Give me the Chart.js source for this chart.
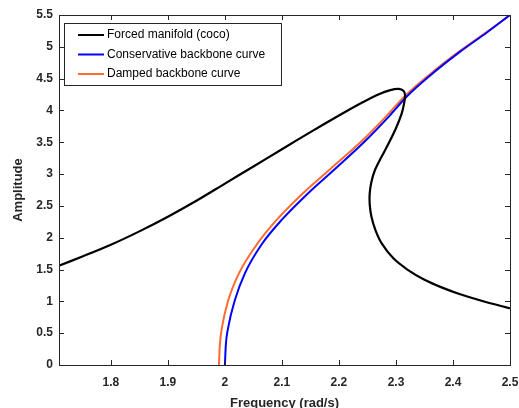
<!DOCTYPE html>
<html>
<head>
<meta charset="utf-8">
<script src="https://cdn.jsdelivr.net/npm/chart.js@4/dist/chart.umd.min.js"></script>
<style>
html,body{margin:0;padding:0;background:#fff;}
#wrap{width:519px;height:408px;position:relative;}
</style>
</head>
<body>
<div id="wrap"><canvas id="c" width="519" height="408"></canvas></div>
<script>
// Forced manifold (coco) — frequency / amplitude pairs
const forcedFreq = [1.709,1.75,1.8,1.85,1.9,1.95,2.0,2.05,2.1,2.15,2.2,2.24,2.27,2.29,2.305,2.313,2.316,2.314,2.310,2.300,2.287,2.274,2.263,2.257,2.254,2.254,2.257,2.264,2.275,2.295,2.32,2.35,2.38,2.41,2.45,2.5];
const forcedAmp  = [1.56,1.705,1.89,2.10,2.33,2.58,2.85,3.12,3.39,3.66,3.92,4.12,4.255,4.32,4.34,4.31,4.24,4.10,3.95,3.72,3.48,3.26,3.06,2.88,2.70,2.52,2.33,2.12,1.91,1.68,1.50,1.34,1.22,1.12,1.01,0.89];
// Conservative backbone curve
const consFreq = [2.0,2.0015,2.006,2.0175,2.035,2.064,2.0995,2.146,2.193,2.246,2.287,2.319,2.36,2.412,2.46,2.5];
const consAmp  = [0,0.30,0.60,1.02,1.44,1.89,2.28,2.70,3.08,3.52,3.90,4.22,4.55,4.92,5.23,5.5];
// Damped backbone curve
const dampFreq = [1.9895,1.991,1.995,2.006,2.0246,2.0556,2.0907,2.137,2.185,2.240,2.282,2.315,2.357,2.410,2.459,2.5];
const dampAmp  = [0,0.30,0.60,1.02,1.44,1.89,2.28,2.70,3.08,3.52,3.90,4.22,4.55,4.92,5.23,5.5];
const seriesLabels = ['Forced manifold (coco)','Conservative backbone curve','Damped backbone curve'];
const seriesColors = ['#000000','#0000ff','#ff6a33'];
const xTicks = [1.8,1.9,2.0,2.1,2.2,2.3,2.4,2.5];
const yTicks = [0,0.5,1,1.5,2,2.5,3,3.5,4,4.5,5,5.5];
const xRange = [1.709, 2.5];
const yRange = [0, 5.5];

function pts(xs, ys){ return xs.map((x,i)=>({x:x,y:ys[i]})); }
const FONT = "'Liberation Sans', Arial, Helvetica, sans-serif";
const AX = '#262626';
function fmt(v){ return String(Number(v.toFixed(3))); }

const frame = {
  id:'frame',
  afterDatasetsDraw(chart){
    const ctx = chart.ctx, a = chart.chartArea, xs = chart.scales.x, ys = chart.scales.y;
    ctx.save();
    ctx.strokeStyle = AX; ctx.lineWidth = 1;
    ctx.beginPath();
    ctx.rect(Math.round(a.left)+0.5, Math.round(a.top)+0.5, Math.round(a.right-a.left), Math.round(a.bottom-a.top));
    ctx.stroke();
    const L = 5;
    ctx.beginPath();
    xTicks.forEach(v=>{
      const px = Math.round(xs.getPixelForValue(v))+0.5;
      ctx.moveTo(px, a.bottom); ctx.lineTo(px, a.bottom-L);
      ctx.moveTo(px, a.top); ctx.lineTo(px, a.top+L);
    });
    yTicks.forEach(v=>{
      const py = Math.round(ys.getPixelForValue(v))+0.5;
      ctx.moveTo(a.left, py); ctx.lineTo(a.left+L, py);
      ctx.moveTo(a.right, py); ctx.lineTo(a.right-L, py);
    });
    ctx.stroke();
    // legend box
    const bx = 64.5, by = 23.5, bw = 217, bh = 62;
    ctx.fillStyle = '#fff';
    ctx.fillRect(bx, by, bw, bh);
    ctx.strokeStyle = '#262626'; ctx.lineWidth = 1;
    ctx.strokeRect(bx, by, bw, bh);
    ctx.font = "12px " + FONT;
    ctx.textBaseline = 'middle'; ctx.textAlign = 'left';
    chart.data.datasets.forEach((ds,i)=>{
      const y = 35 + i*19.5;
      ctx.strokeStyle = ds.borderColor; ctx.lineWidth = 2;
      ctx.beginPath(); ctx.moveTo(78, y); ctx.lineTo(104, y); ctx.stroke();
      ctx.fillStyle = '#000';
      ctx.fillText(ds.label, 107, y);
    });
    ctx.restore();
  }
};

new Chart(document.getElementById('c'), {
  type:'scatter',
  data:{
    datasets:[
      {label:seriesLabels[0], data:pts(forcedFreq,forcedAmp), borderColor:seriesColors[0], showLine:true, pointRadius:0, borderWidth:2.2, tension:0.3},
      {label:seriesLabels[1], data:pts(consFreq,consAmp), borderColor:seriesColors[1], showLine:true, pointRadius:0, borderWidth:2, cubicInterpolationMode:'monotone'},
      {label:seriesLabels[2], data:pts(dampFreq,dampAmp), borderColor:seriesColors[2], showLine:true, pointRadius:0, borderWidth:2, cubicInterpolationMode:'monotone'}
    ]
  },
  options:{
    responsive:false, animation:false,
    layout:{padding:{left:0,right:9,top:15,bottom:0}},
    plugins:{legend:{display:false}, tooltip:{enabled:false}},
    scales:{
      x:{
        type:'linear', min:xRange[0], max:xRange[1],
        afterFit(s){ s.height = 43; s.paddingRight = 0; s.paddingLeft = 0; },
        afterBuildTicks(s){ s.ticks = xTicks.map(v=>({value:v})); },
        grid:{display:false, drawTicks:false},
        border:{display:true, color:AX},
        ticks:{padding:10, color:AX, font:{family:FONT, size:12, weight:'bold'}, callback:v=>fmt(v), maxRotation:0},
        title:{display:true, text:'Frequency (rad/s)', color:AX, font:{family:FONT, size:13, weight:'bold'}, padding:{top:0,bottom:-3}}
      },
      y:{
        type:'linear', min:yRange[0], max:yRange[1],
        afterFit(s){ s.width = 59; s.paddingTop = 0; s.paddingBottom = 0; },
        afterBuildTicks(s){ s.ticks = yTicks.map(v=>({value:v})); },
        grid:{display:false, drawTicks:false},
        border:{display:true, color:AX},
        ticks:{padding:6, color:AX, font:{family:FONT, size:12, weight:'bold'}, callback:v=>fmt(v)},
        title:{display:true, text:'Amplitude', color:AX, font:{family:FONT, size:13, weight:'bold'}, padding:{top:11,bottom:0}}
      }
    }
  },
  plugins:[frame]
});
</script>
</body>
</html>
